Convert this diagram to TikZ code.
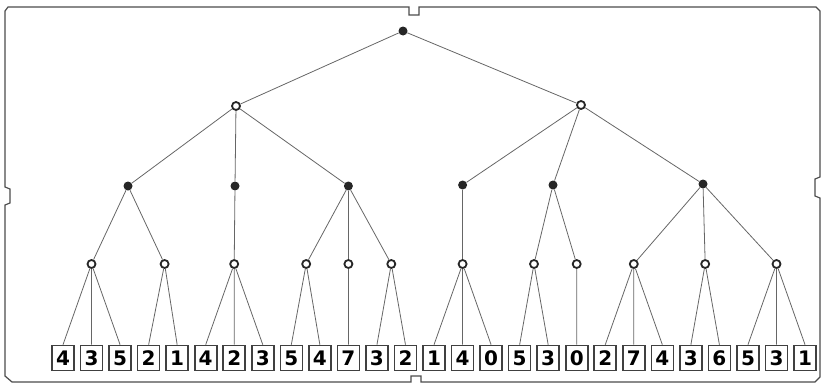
\documentclass[tikz,border=0pt]{standalone}
\usepackage{fontspec}
\newfontfamily\digitfont{DejaVu Sans}
\begin{document}
\begin{tikzpicture}[x=1pt,y=-1pt,
  fdot/.style={circle,fill=black!85,inner sep=0pt,minimum size=9pt},
  odot/.style={circle,draw=black!85,line width=1.8pt,fill=white,inner sep=0pt,minimum size=8pt},
  leaf/.style={draw=black!75,line width=1.6pt,minimum width=22pt,minimum height=25pt,inner sep=0pt,
    font=\digitfont\bfseries\fontsize{20}{20}\selectfont},
  edge/.style={draw=black!60,line width=0.8pt},
  frame/.style={draw=black!70,line width=1.2pt}]
\useasboundingbox (0,0) rectangle (823,388);
% frame
\draw[frame] (8,7) -- (409,7) -- (409,15) -- (419,15) -- (419,7) -- (816,7) -- (820,11)
  -- (820,177) -- (815,179) -- (815,196) -- (820,198) -- (820,377) -- (815,382)
  -- (421,382) -- (421,376) -- (411,376) -- (411,382) -- (12,382) -- (5,376)
  -- (5,205) -- (10,203) -- (10,189) -- (5,187) -- (5,11) -- cycle;
% leaves
\foreach \v [count=\i from 0] in {4,3,5,2,1,4,2,3,5,4,7,3,2,1,4,0,5,3,0,2,7,4,3,6,5,3,1}
  \node[leaf] (l\i) at ({63+28.54*\i},358) {\v};
% level 3
\node[odot] (c1) at (91.5,264) {};
\node[odot] (c2) at (164.6,264) {};
\node[odot] (c3) at (234.2,264) {};
\node[odot] (c4) at (306.2,264) {};
\node[odot] (c5) at (348.4,264) {};
\node[odot] (c6) at (391.3,264) {};
\node[odot] (c7) at (462.6,264) {};
\node[odot] (c8) at (534.0,264) {};
\node[odot] (c9) at (576.7,264) {};
\node[odot] (c10) at (633.8,264) {};
\node[odot] (c11) at (705.2,264) {};
\node[odot] (c12) at (776.5,264) {};
% level 2
\node[fdot] (d1) at (128,186) {};
\node[fdot] (d2) at (235,186) {};
\node[fdot] (d3) at (348.4,186) {};
\node[fdot] (d4) at (462.6,185) {};
\node[fdot] (d5) at (553,185) {};
\node[fdot] (d6) at (703,184) {};
% level 1
\node[odot] (a1) at (236,106) {};
\node[odot] (a2) at (581,105) {};
% root
\node[fdot] (r) at (403,31) {};
% edges
\draw[edge] (r) -- (a1);
\draw[edge] (r) -- (a2);
\foreach \d in {d1,d2,d3} \draw[edge] (a1) -- (\d);
\foreach \d in {d4,d5,d6} \draw[edge] (a2) -- (\d);
\draw[edge] (d1) -- (c1); \draw[edge] (d1) -- (c2);
\draw[edge] (d2) -- (c3);
\draw[edge] (d3) -- (c4); \draw[edge] (d3) -- (c5); \draw[edge] (d3) -- (c6);
\draw[edge] (d4) -- (c7);
\draw[edge] (d5) -- (c8); \draw[edge] (d5) -- (c9);
\draw[edge] (d6) -- (c10); \draw[edge] (d6) -- (c11); \draw[edge] (d6) -- (c12);
\foreach \c/\a/\b in {c1/0/2,c2/3/4,c3/5/7,c4/8/9,c5/10/10,c6/11/12,c7/13/15,c8/16/17,c9/18/18,c10/19/21,c11/22/23,c12/24/26}
  \foreach \k in {\a,...,\b} \draw[edge] (\c) -- (l\k.north);
\end{tikzpicture}
\end{document}
